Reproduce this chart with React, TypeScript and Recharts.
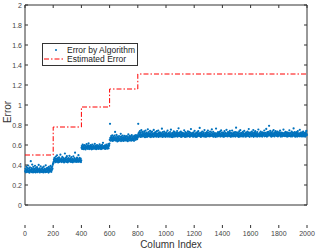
import { ScatterChart, Scatter, XAxis, YAxis, ReferenceArea, Legend, Label } from "recharts"

// column ranges and the estimated error for each range
const columnBounds = [0, 200, 400, 600, 800, 2000]
const estimatedError = [0.5, 0.78, 0.98, 1.16, 1.31]

// error by algorithm, every 2nd column, values x1000
const colStep = 2
const seg1 = [
  338, 362, 327, 351, 384, 343, 329, 371, 356, 334,
  347, 395, 332, 366, 341, 323, 358, 377, 345, 336,
  438, 352, 329, 368, 341, 404, 335, 359, 326, 382,
  349, 337, 363, 331, 354, 392, 343, 325, 369, 338,
  357, 333, 378, 346, 328, 361, 339, 352, 401, 336,
  344, 367, 325, 355, 338, 386, 348, 331, 364, 342,
  329, 359, 373, 337, 351, 326, 383, 345, 334, 362,
  341, 356, 328, 397, 349, 335, 366, 330, 354, 371,
  337, 348, 361, 324, 381, 343, 356, 333, 368, 346,
  391, 339, 357, 332, 374, 351, 385, 363, 402, 415,
]
const seg2 = [
  418, 432, 456, 441, 472, 437, 463, 449, 428, 484,
  445, 461, 433, 497, 452, 439, 468, 426, 455, 443,
  476, 431, 459, 447, 438, 503, 451, 435, 466, 444,
  429, 457, 481, 440, 453, 436, 469, 448, 425, 462,
  442, 515, 437, 458, 446, 474, 431, 455, 488, 439,
  463, 427, 450, 443, 470, 436, 458, 492, 441, 453,
  434, 466, 447, 430, 479, 452, 438, 461, 445, 427,
  457, 486, 440, 449, 433, 468, 444, 523, 456, 437,
  451, 430, 463, 442, 475, 436, 459, 448, 432, 498,
  445, 460, 434, 471, 441, 453, 437, 465, 429, 447,
]
const seg3 = [
  572, 589, 561, 580, 603, 567, 585, 558, 594, 575,
  564, 598, 571, 583, 556, 591, 577, 566, 609, 581,
  569, 587, 562, 596, 574, 616, 579, 559, 588, 570,
  584, 563, 599, 576, 568, 590, 557, 581, 605, 573,
  560, 586, 577, 595, 565, 579, 571, 612, 562, 589,
  576, 593, 558, 582, 569, 600, 574, 564, 587, 578,
  591, 561, 583, 570, 607, 575, 566, 594, 580, 559,
  573, 588, 563, 601, 577, 568, 622, 582, 571, 590,
  565, 584, 576, 597, 560, 579, 592, 569, 604, 574,
  586, 563, 581, 595, 572, 610, 567, 589, 598, 615,
]
const seg4 = [
  652, 812, 671, 643, 664, 689, 648, 676, 657, 697,
  641, 668, 655, 683, 646, 672, 659, 693, 650, 731,
  666, 644, 679, 658, 701, 647, 670, 636, 685, 662,
  653, 675, 642, 690, 660, 648, 667, 655, 681, 712,
  639, 664, 686, 651, 673, 645, 695, 658, 669, 640,
  678, 654, 663, 692, 647, 671, 659, 683, 644, 666,
  657, 688, 649, 674, 638, 662, 706, 653, 680, 668,
  645, 691, 660, 672, 651, 684, 643, 665, 698, 656,
  677, 648, 669, 687, 655, 663, 642, 679, 694, 661,
  670, 684, 652, 699, 666, 675, 689, 658, 681, 673,
]
const seg5 = [
  698, 812, 716, 684, 727, 703, 691, 739, 709, 680,
  722, 695, 748, 706, 683, 731, 700, 689, 718, 694,
  711, 686, 736, 702, 720, 678, 697, 744, 713, 689,
  704, 725, 681, 715, 699, 757, 688, 708, 730, 693,
  717, 684, 702, 741, 696, 712, 679, 724, 705, 690,
  733, 699, 687, 714, 703, 682, 751, 707, 721, 695,
  686, 710, 728, 692, 716, 700, 683, 738, 698, 713,
  706, 691, 745, 680, 719, 702, 726, 688, 711, 697,
  724, 685, 703, 717, 693, 763, 701, 680, 729, 708,
  694, 713, 686, 734, 705, 689, 720, 698, 682, 715,
  701, 727, 692, 709, 684, 743, 697, 712, 688, 719,
  714, 683, 705, 696, 730, 687, 709, 753, 699, 681,
  690, 718, 702, 679, 722, 706, 693, 737, 684, 711,
  728, 697, 686, 714, 701, 689, 725, 708, 694, 740,
  683, 709, 721, 695, 767, 703, 688, 716, 699, 727,
  707, 692, 735, 681, 712, 698, 724, 686, 704, 719,
  695, 716, 688, 703, 747, 691, 711, 680, 729, 700,
  722, 684, 708, 697, 719, 685, 701, 736, 692, 713,
  689, 731, 694, 710, 682, 725, 706, 688, 759, 698,
  711, 696, 720, 687, 704, 713, 683, 726, 700, 692,
  703, 742, 686, 715, 697, 709, 681, 723, 690, 717,
  684, 706, 729, 693, 738, 700, 715, 689, 708, 771,
  718, 690, 702, 681, 724, 696, 711, 687, 733, 705,
  697, 713, 688, 727, 701, 684, 749, 706, 693, 720,
  708, 682, 716, 699, 730, 687, 703, 721, 744, 691,
  692, 724, 705, 685, 712, 698, 735, 689, 710, 701,
  726, 694, 756, 703, 688, 717, 700, 732, 683, 709,
  687, 711, 699, 720, 693, 706, 681, 764, 714, 696,
  715, 689, 703, 685, 728, 697, 719, 691, 708, 722,
  700, 734, 684, 711, 695, 746, 707, 688, 725, 693,
  709, 686, 723, 698, 716, 682, 703, 739, 690, 713,
  721, 697, 688, 712, 752, 694, 717, 700, 685, 730,
  693, 715, 705, 727, 689, 710, 741, 696, 719, 683,
  685, 719, 698, 707, 744, 691, 713, 686, 702, 725,
  712, 688, 724, 695, 703, 730, 684, 709, 773, 698,
  704, 726, 691, 716, 687, 701, 720, 694, 681, 737,
  717, 692, 709, 748, 698, 686, 722, 705, 713, 690,
  688, 710, 731, 684, 719, 697, 703, 742, 695, 711,
  706, 683, 718, 692, 727, 708, 687, 714, 699, 735,
  696, 721, 689, 760, 705, 713, 682, 724, 700, 709,
  723, 699, 687, 712, 733, 690, 706, 718, 694, 750,
  682, 708, 726, 697, 689, 715, 738, 701, 720, 686,
  714, 695, 703, 729, 684, 710, 693, 755, 707, 699,
  691, 720, 686, 706, 701, 734, 715, 688, 724, 697,
  708, 684, 727, 693, 716, 700, 719, 709, 745, 687,
  719, 702, 690, 722, 696, 761, 705, 684, 713, 728,
  688, 714, 699, 732, 707, 792, 720, 695, 703, 741,
  712, 691, 724, 683, 717, 704, 697, 736, 689, 718,
  701, 749, 693, 710, 686, 721, 705, 728, 739, 694,
  717, 698, 726, 690, 711, 733, 686, 706, 695, 722,
  693, 727, 708, 716, 743, 699, 684, 719, 710, 702,
  725, 686, 712, 697, 720, 692, 754, 707, 716, 689,
  705, 718, 690, 731, 699, 722, 687, 711, 727, 696,
  684, 711, 723, 694, 716, 688, 701, 747, 690, 719,
  714, 697, 686, 720, 705, 735, 693, 685, 724, 708,
  698, 722, 766, 703, 689, 715, 730, 697, 683, 712,
  721, 688, 709, 728, 696, 684, 718, 739, 706, 693,
  695, 716, 687, 711, 752, 702, 690, 724, 713, 686,
  709, 693, 727, 699, 719, 685, 733, 708, 696, 717,
  687, 720, 702, 715, 684, 726, 697, 741, 710, 700,
]
const segments = [seg1, seg2, seg3, seg4, seg5]

const xTicks = [0, 200, 400, 600, 800, 1000, 1200, 1400, 1600, 1800, 2000]
const yTicks = [0, 0.2, 0.4, 0.6, 0.8, 1, 1.2, 1.4, 1.6, 1.8, 2]

const algoPoints = segments.flatMap((seg, s) =>
  seg.map((v, i) => ({ x: columnBounds[s] + i * colStep + 1, y: v / 1000 }))
)
const estPoints = estimatedError.flatMap((e, s) => [
  { x: columnBounds[s], y: e },
  { x: columnBounds[s + 1], y: e },
])

const W = 316
const H = 251
const PLOT = { left: 25, right: 307, top: 5, bottom: 228 }
const FONT = "'Liberation Sans', Arial, sans-serif"
const BLUE = "#0072BD"
const RED = "#FF0000"
const DASH = "5 2 1.5 2"

const XTick = ({ x, payload }: any) => (
  <g>
    <line x1={x} x2={x} y1={PLOT.bottom} y2={PLOT.bottom - 3} stroke="#333" />
    <line x1={x} x2={x} y1={PLOT.top} y2={PLOT.top + 3} stroke="#333" />
    <text x={x} y={233} textAnchor="middle" dominantBaseline="central" fontSize={7} fill="#444" fontFamily={FONT}>
      {payload.value}
    </text>
  </g>
)

const YTick = ({ y, payload }: any) => (
  <g>
    <line x1={PLOT.left} x2={PLOT.left + 3} y1={y} y2={y} stroke="#333" />
    <line x1={PLOT.right} x2={PLOT.right - 3} y1={y} y2={y} stroke="#333" />
    <text x={22} y={y} textAnchor="end" dominantBaseline="central" fontSize={7} fill="#444" fontFamily={FONT}>
      {payload.value}
    </text>
  </g>
)

const LegendBox = () => (
  <svg width={96} height={23} style={{ display: "block" }}>
    <rect x={0.5} y={0.5} width={95} height={22} fill="#fff" stroke="#333" />
    <circle cx={14} cy={7} r={1} fill={BLUE} />
    <text x={25} y={7} dominantBaseline="central" fontSize={8.5} fill="#222" fontFamily={FONT}>
      Error by Algorithm
    </text>
    <line x1={2} x2={21} y1={16} y2={16} stroke={RED} strokeDasharray={DASH} />
    <text x={25} y={16} dominantBaseline="central" fontSize={8.5} fill="#222" fontFamily={FONT}>
      Estimated Error
    </text>
  </svg>
)

export default function App() {
  return (
    <div style={{ position: "absolute", left: 0, top: 0, width: W, height: H, background: "#fff" }}>
      <ScatterChart width={W} height={H} margin={{ top: PLOT.top, right: W - PLOT.right, bottom: 0, left: 0 }}>
        <XAxis
          type="number"
          dataKey="x"
          domain={[0, 2000]}
          ticks={xTicks}
          height={H - PLOT.bottom}
          axisLine={false}
          tickLine={false}
          tick={<XTick />}
          interval={0}
        >
          <Label
            content={() => (
              <text x={171} y={244} textAnchor="middle" dominantBaseline="central" fontSize={10} fill="#333" fontFamily={FONT}>
                Column Index
              </text>
            )}
          />
        </XAxis>
        <YAxis
          type="number"
          dataKey="y"
          domain={[0, 2]}
          ticks={yTicks}
          width={PLOT.left}
          axisLine={false}
          tickLine={false}
          tick={<YTick />}
          interval={0}
        >
          <Label
            content={() => (
              <text x={7} y={112} textAnchor="middle" dominantBaseline="central" fontSize={10} fill="#333" fontFamily={FONT} transform="rotate(-90 7 112)">
                Error
              </text>
            )}
          />
        </YAxis>
        <ReferenceArea x1={0} x2={2000} y1={0} y2={2} fill="none" stroke="#333" strokeWidth={1} ifOverflow="visible" />
        <Scatter
          name="Error by Algorithm"
          data={algoPoints}
          isAnimationActive={false}
          shape={(p: any) => <circle cx={p.cx} cy={p.cy} r={1.1} fill={BLUE} />}
        />
        <Scatter
          name="Estimated Error"
          data={estPoints}
          isAnimationActive={false}
          line={{ stroke: RED, strokeWidth: 1, strokeDasharray: DASH }}
          shape={() => <g />}
        />
        <Legend content={<LegendBox />} wrapperStyle={{ position: "absolute", left: 42, top: 43, width: 96, height: 23 }} />
      </ScatterChart>
    </div>
  )
}
